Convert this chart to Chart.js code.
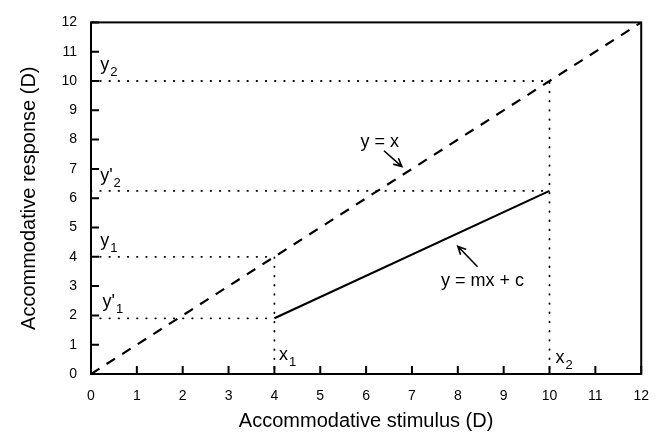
<!DOCTYPE html>
<html>
<head>
<meta charset="utf-8">
<script src="https://cdn.jsdelivr.net/npm/chart.js@4.4.1/dist/chart.umd.min.js"></script>
<style>
html, body { margin: 0; padding: 0; background: #fff; }
#wrap { width: 663px; height: 437px; }
</style>
</head>
<body>
<div id="wrap"><canvas id="chart"></canvas></div>
<script>
// tick values on both axes
const axisTicks = [0, 1, 2, 3, 4, 5, 6, 7, 8, 9, 10, 11, 12];
// y = x reference line
const unityX = [0, 12];
const unityY = [0, 12];
// stimulus points x1, x2
const stimulus = [4, 10];
// response on y = x : y1, y2
const response = [4, 10];
// measured response y'1, y'2 (line y = mx + c)
const measured = [1.9, 6.25];

const FONT = "'Liberation Sans', Arial, Helvetica, sans-serif";

// text notes placed in data units
const notes = [
    { x: 0.2, y: 10.36, main: "y", sub: "2" },
    { x: 0.2, y: 6.57, main: "y'", sub: "2" },
    { x: 0.2, y: 4.36, main: "y", sub: "1" },
    { x: 0.25, y: 2.28, main: "y'", sub: "1" },
    { x: 4.1, y: 0.47, main: "x", sub: "1" },
    { x: 10.13, y: 0.37, main: "x", sub: "2" },
    { x: 6.3, y: 7.75, main: "y = x", sub: "", center: true },
    { x: 8.54, y: 2.99, main: "y = mx + c", sub: "", center: true },
];
const arrows = [
    { x1: 6.39, y1: 7.62, x2: 6.78, y2: 7.08 },
    { x1: 8.43, y1: 3.66, x2: 8.0, y2: 4.36 },
];

const pts = (xs, ys) => xs.map((x, i) => ({ x: x, y: ys[i] }));

let datasets = [];
datasets.push({
    data: pts(unityX, unityY),
    borderColor: "#000", borderWidth: 2.2, borderDash: [10, 8.5],
});
datasets.push({
    data: pts(stimulus, measured),
    borderColor: "#000", borderWidth: 2.2,
});
for (let i = 0; i < stimulus.length; i++) {
    datasets.push({
        data: [{ x: 0, y: response[i] }, { x: stimulus[i], y: response[i] }, { x: stimulus[i], y: 0 }],
        borderColor: "#000", borderWidth: 1.8, borderDash: [0.5, 8.7], borderCapStyle: "round",
    });
    datasets.push({
        data: [{ x: 0, y: measured[i] }, { x: stimulus[i], y: measured[i] }],
        borderColor: "#000", borderWidth: 1.8, borderDash: [0.5, 8.7], borderCapStyle: "round",
    });
}
datasets.forEach(d => { d.showLine = true; d.pointRadius = 0; d.fill = false; });

const framePlugin = {
    id: "frame",
    afterDatasetsDraw(chart) {
        const ctx = chart.ctx;
        const a = chart.chartArea;
        const xs = chart.scales.x, ys = chart.scales.y;
        ctx.save();
        ctx.strokeStyle = "#000";
        ctx.lineWidth = 2;
        ctx.strokeRect(a.left, a.top, a.right - a.left, a.bottom - a.top);
        // inward ticks on left and bottom
        ctx.beginPath();
        for (const t of axisTicks) {
            const py = ys.getPixelForValue(t);
            ctx.moveTo(a.left, py); ctx.lineTo(a.left + 8, py);
            const px = xs.getPixelForValue(t);
            ctx.moveTo(px, a.bottom); ctx.lineTo(px, a.bottom - 8);
        }
        ctx.stroke();

        // notes
        ctx.fillStyle = "#000";
        ctx.textBaseline = "alphabetic";
        for (const n of notes) {
            const px = xs.getPixelForValue(n.x), py = ys.getPixelForValue(n.y);
            ctx.font = "18px " + FONT;
            const w = ctx.measureText(n.main).width;
            ctx.textAlign = "left";
            const left = n.center ? px - w / 2 : px;
            ctx.fillText(n.main, left, py);
            if (n.sub) {
                ctx.font = "13px " + FONT;
                ctx.fillText(n.sub, left + w + 1, py + 6);
            }
        }

        // arrows
        ctx.lineWidth = 1.6;
        for (const ar of arrows) {
            const ax = xs.getPixelForValue(ar.x1), ay = ys.getPixelForValue(ar.y1);
            const bx = xs.getPixelForValue(ar.x2), by = ys.getPixelForValue(ar.y2);
            const ang = Math.atan2(by - ay, bx - ax);
            ctx.beginPath();
            ctx.moveTo(ax, ay); ctx.lineTo(bx, by);
            ctx.moveTo(bx - 9 * Math.cos(ang - 0.45), by - 9 * Math.sin(ang - 0.45));
            ctx.lineTo(bx, by);
            ctx.lineTo(bx - 9 * Math.cos(ang + 0.45), by - 9 * Math.sin(ang + 0.45));
            ctx.stroke();
        }
        ctx.restore();
    }
};

const ctx = document.getElementById("chart").getContext("2d");
const myChart = new Chart(ctx, {
    type: "scatter",
    data: { datasets: datasets },
    options: {
        responsive: true,
        maintainAspectRatio: false,
        animation: false,
        layout: { padding: { top: 16, right: 20, left: 0, bottom: 0 } },
        plugins: { legend: { display: false }, tooltip: { enabled: false } },
        scales: {
            x: {
                type: "linear", min: 0, max: 12,
                grid: { display: false, drawTicks: false },
                border: { display: false },
                ticks: { stepSize: 1, padding: 14, color: "#000", font: { family: FONT, size: 14 } },
                title: { display: true, text: "Accommodative stimulus (D)", color: "#000",
                         font: { family: FONT, size: 20 }, padding: { top: 0, bottom: 4 } },
                afterFit: (s) => { s.height = 63; },
            },
            y: {
                type: "linear", min: 0, max: 12,
                grid: { display: false, drawTicks: false },
                border: { display: false },
                ticks: { stepSize: 1, padding: 14, color: "#000", font: { family: FONT, size: 14 } },
                title: { display: true, text: "Accommodative response (D)", color: "#000",
                         font: { family: FONT, size: 20 }, padding: { top: 17, bottom: 0 } },
                afterFit: (s) => { s.width = 91; },
            },
        },
    },
    plugins: [framePlugin],
});
</script>
</body>
</html>
